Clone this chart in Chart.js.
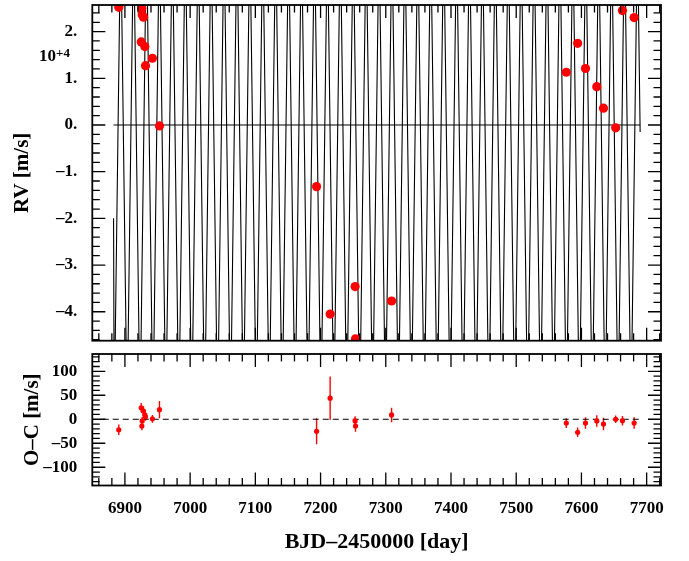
<!DOCTYPE html>
<html>
<head>
<meta charset="utf-8">
<title>RV fit</title>
<script src="https://cdn.jsdelivr.net/npm/chart.js@4.4.0/dist/chart.umd.min.js"></script>
<style>
html, body { margin: 0; padding: 0; background: #fff; }
#wrap { position: relative; width: 689px; height: 561px; }
#rv { position: absolute; left: 0; top: 0; }
#oc { position: absolute; left: 0; top: 350px; }
</style>
</head>
<body>
<div id="wrap">
  <canvas id="rv" width="689" height="350"></canvas>
  <canvas id="oc" width="689" height="211"></canvas>
</div>
<script>
// observations (BJD-2450000), RV in m/s, residuals and errors in m/s
const obsDay = [6890.6, 6925.0, 6926.0, 6926.5, 6928.5, 6930.5, 6931.6, 6942.2, 6953.0,
  7193.9, 7214.7, 7253.0, 7253.6, 7308.9,
  7576.8, 7594.2, 7606.2, 7623.5, 7633.8, 7652.5, 7662.9, 7680.8];
const rvObs = [25200, 17800, 25000, 23600, 23100, 16800, 12700, 14300, -200,
  -13200, -40500, -34600, -45800, -37700,
  11300, 17500, 12100, 8200, 3600, -600, 24500, 23000];
const ocObs = [-22, 24, -14, -3.5, 17, 9, 5, 1, 20,
  -25, 44, -3.5, -14, 9,
  -8, -27, -8, -3.5, -10, 0, -3, -8];
const ocErr = [11, 10, 9, 8, 10, 9, 8, 8, 18,
  27, 45, 10, 12, 15,
  10, 10, 12, 12, 13, 8, 10, 12];

// model curve turning points as drawn (sampled orbit)
const modelStart = [6882.6, -20000];
const modelEnd = [7690.0, -1500];
const troughDay = [6883.6, 6903.4, 6923.2, 6943.0, 6962.8, 6982.7, 7002.5, 7022.3, 7042.1, 7061.9,
  7081.7, 7101.5, 7121.3, 7141.1, 7160.9, 7180.8, 7200.6, 7220.4, 7240.2, 7260.0,
  7279.8, 7299.6, 7319.4, 7339.2, 7359.0, 7378.9, 7398.7, 7418.5, 7438.3, 7458.1,
  7477.9, 7497.7, 7517.5, 7537.3, 7557.1, 7577.0, 7596.8, 7616.6, 7636.4, 7656.2, 7676.0];
const peakDay = [6893.5, 6913.3, 6933.1, 6952.9, 6972.7, 6992.6, 7012.4, 7032.2, 7052.0, 7071.8,
  7091.6, 7111.4, 7131.2, 7151.0, 7170.8, 7190.7, 7210.5, 7230.3, 7250.1, 7269.9,
  7289.7, 7309.5, 7329.3, 7349.1, 7368.9, 7388.8, 7408.6, 7428.4, 7448.2, 7468.0,
  7487.8, 7507.6, 7527.4, 7547.2, 7567.0, 7586.9, 7606.7, 7626.5, 7646.3, 7666.1, 7685.9];
const rvPeak = 42000;
const rvTrough = -63000;

// axis ticks
const dayTicks = [6900, 7000, 7100, 7200, 7300, 7400, 7500, 7600, 7700];
const rvTicks = [20000, 10000, 0, -10000, -20000, -30000, -40000];
const ocTicks = [100, 50, 0, -50, -100];

const serif = "'Liberation Serif', 'DejaVu Serif', serif";
const red = '#ff0000';

const modelPoints = [{x: modelStart[0], y: modelStart[1]}];
troughDay.forEach((d, i) => {
  modelPoints.push({x: d, y: rvTrough});
  modelPoints.push({x: peakDay[i], y: rvPeak});
});
modelPoints.push({x: modelEnd[0], y: modelEnd[1]});

const rvPoints = obsDay.map((d, i) => ({x: d, y: rvObs[i]}));
const ocPoints = obsDay.map((d, i) => ({x: d, y: ocObs[i]}));

// frame with inward ticks on all four sides
const frame = {
  id: 'frame',
  afterDatasetsDraw(chart, args, o) {
    const {ctx, chartArea: a, scales: {x, y}} = chart;
    ctx.save();
    ctx.strokeStyle = '#000';
    ctx.lineWidth = 1.3;
    ctx.beginPath();
    for (let i = Math.ceil(x.min / o.xMinor); i * o.xMinor <= x.max; i++) {
      const px = x.getPixelForValue(i * o.xMinor);
      const len = i % o.xEvery === 0 ? 13 : 7.5;
      ctx.moveTo(px, a.bottom); ctx.lineTo(px, a.bottom - len);
      ctx.moveTo(px, a.top); ctx.lineTo(px, a.top + len);
    }
    for (let i = Math.ceil(y.min / o.yMinor); i * o.yMinor <= y.max; i++) {
      const py = y.getPixelForValue(i * o.yMinor);
      const len = i % o.yEvery === 0 ? 13 : 7.5;
      ctx.moveTo(a.left, py); ctx.lineTo(a.left + len, py);
      ctx.moveTo(a.right, py); ctx.lineTo(a.right - len, py);
    }
    ctx.stroke();
    ctx.lineWidth = 1.8;
    ctx.strokeRect(a.left, a.top, a.right - a.left, a.bottom - a.top);
    if (o.exponent) {
      const py = y.getPixelForValue(o.exponent.at);
      ctx.fillStyle = '#000';
      ctx.textAlign = 'right';
      ctx.textBaseline = 'alphabetic';
      ctx.font = "bold 13px " + serif;
      const sup = o.exponent.sup;
      const w = ctx.measureText(sup).width;
      ctx.fillText(sup, 70, py + 2);
      ctx.font = "bold 17px " + serif;
      ctx.fillText(o.exponent.base, 70 - w, py + 6);
    }
    ctx.restore();
  }
};

// vertical error bars for the residuals
const errorBars = {
  id: 'errorBars',
  beforeDatasetsDraw(chart) {
    const {ctx, chartArea: a, scales: {x, y}} = chart;
    ctx.save();
    ctx.beginPath();
    ctx.rect(a.left, a.top, a.right - a.left, a.bottom - a.top);
    ctx.clip();
    ctx.strokeStyle = red;
    ctx.lineWidth = 1.4;
    ctx.beginPath();
    obsDay.forEach((d, i) => {
      const px = x.getPixelForValue(d);
      ctx.moveTo(px, y.getPixelForValue(ocObs[i] - ocErr[i]));
      ctx.lineTo(px, y.getPixelForValue(ocObs[i] + ocErr[i]));
    });
    ctx.stroke();
    ctx.restore();
  }
};

function fixY(scale) {
  scale.width = 92.3;
  scale.paddingTop = 0;
  scale.paddingBottom = 0;
}

const tickFont = {family: serif, size: 17, weight: 'bold'};
const titleFont = {family: serif, size: 21, weight: 'bold'};

new Chart(document.getElementById('rv'), {
  type: 'scatter',
  data: {
    datasets: [
      {data: rvPoints, backgroundColor: red, borderWidth: 0, pointRadius: 4.6, order: 0, clip: 0},
      {data: [{x: modelStart[0], y: 0}, {x: modelEnd[0], y: 0}], showLine: true, borderColor: '#000',
       borderWidth: 1, pointRadius: 0, order: 1},
      {data: modelPoints, showLine: true, borderColor: '#000', borderWidth: 1.1, pointRadius: 0, order: 2, clip: 0}
    ]
  },
  options: {
    responsive: false,
    animation: false,
    layout: {padding: {left: 0, right: 28, top: 5, bottom: 9.3}},
    plugins: {
      legend: {display: false},
      tooltip: {enabled: false},
      frame: {xMinor: 20, xEvery: 5, yMinor: 2000, yEvery: 5,
              exponent: {at: 15000, base: '10', sup: '+4'}}
    },
    scales: {
      x: {type: 'linear', display: false, min: 6850, max: 7722},
      y: {
        type: 'linear', min: -46200, max: 25700,
        grid: {display: false, drawTicks: false},
        border: {display: false},
        afterBuildTicks: s => { s.ticks = rvTicks.map(v => ({value: v})); },
        afterFit: fixY,
        ticks: {
          color: '#000', font: tickFont, padding: 15,
          callback: v => (v < 0 ? '–' : '') + Math.abs(v / 10000) + '.'
        },
        title: {display: true, text: 'RV [m/s]', color: '#000', font: titleFont, padding: {top: 10, bottom: 0}}
      }
    }
  },
  plugins: [frame]
});

new Chart(document.getElementById('oc'), {
  type: 'scatter',
  data: {
    datasets: [
      {data: ocPoints, backgroundColor: red, borderWidth: 0, pointRadius: 2.6, order: 0, clip: 0},
      {data: [{x: 6866, y: 0}, {x: modelEnd[0], y: 0}], showLine: true, borderColor: '#000',
       borderWidth: 1, borderDash: [6, 4], pointRadius: 0, order: 1}
    ]
  },
  options: {
    responsive: false,
    animation: false,
    layout: {padding: {left: 0, right: 28, top: 4, bottom: 0}},
    plugins: {
      legend: {display: false},
      tooltip: {enabled: false},
      frame: {xMinor: 20, xEvery: 5, yMinor: 10, yEvery: 5}
    },
    scales: {
      x: {
        type: 'linear', min: 6850, max: 7722,
        grid: {display: false, drawTicks: false},
        border: {display: false},
        afterBuildTicks: s => { s.ticks = dayTicks.map(v => ({value: v})); },
        afterFit: s => { s.height = 75.5; s.paddingLeft = 0; s.paddingRight = 0; },
        ticks: {color: '#000', font: tickFont, padding: 13, maxRotation: 0, callback: v => String(v)},
        title: {display: true, text: 'BJD–2450000 [day]', color: '#000',
                font: {family: serif, size: 22, weight: 'bold'}, padding: {top: 0, bottom: 5}}
      },
      y: {
        type: 'linear', min: -138, max: 136,
        grid: {display: false, drawTicks: false},
        border: {display: false},
        afterBuildTicks: s => { s.ticks = ocTicks.map(v => ({value: v})); },
        afterFit: fixY,
        ticks: {color: '#000', font: tickFont, padding: 15,
                callback: v => (v < 0 ? '–' : '') + Math.abs(v)},
        title: {display: true, text: 'O–C [m/s]', color: '#000', font: titleFont, padding: {top: 20, bottom: 0}}
      }
    }
  },
  plugins: [frame, errorBars]
});
</script>
</body>
</html>
